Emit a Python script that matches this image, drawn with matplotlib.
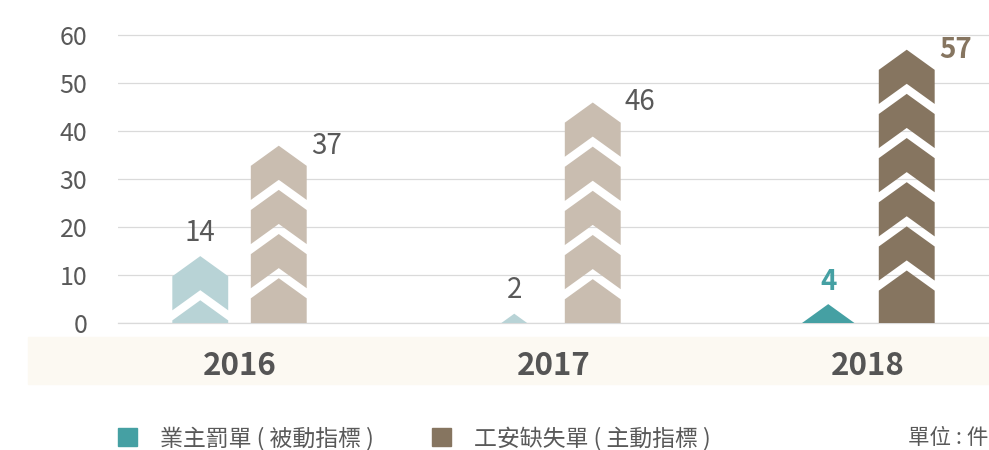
import numpy as np
import matplotlib.pyplot as plt
from matplotlib.patches import Patch, Rectangle

plt.rcParams['font.family'] = ['Noto Sans CJK TC', 'DejaVu Sans']

# data
years = ["2016", "2017", "2018"]
owner_fines = [14, 2, 4]        # 業主罰單 (被動指標)
safety_defects = [37, 46, 57]   # 工安缺失單 (主動指標)
series_names = ["業主罰單 ( 被動指標 )", "工安缺失單 ( 主動指標 )"]
unit_note = "單位 : 件"

# styles
c_owner = ["#b8d3d6", "#b8d3d6", "#45a0a3"]
c_safety = ["#c9bdb0", "#c9bdb0", "#867560"]
grid_c = "#dadada"
text_c = "#595959"

W, H = 989, 450
fig = plt.figure(figsize=(W / 100, H / 100), dpi=100)
ax = fig.add_axes([118 / W, (H - 323.3) / H, (W - 118) / W, 292.8 / H])
ax.set_zorder(2)
ax.patch.set_alpha(0)

# beige band behind year labels
fig.patches.append(Rectangle((28 / W, (H - 384) / H), 1 - 28 / W, 47 / H,
                             transform=fig.transFigure, color="#fcf9f2", zorder=-1))

half_w = 0.089   # half bar width (data units)
peak = 4.2       # height of chevron tip
period = 9.2     # chevron spacing
gap = 2.1        # white gap between chevrons


def draw_chevrons(ax, xc, value, color):
    tips = [value]
    while tips[-1] - period > 3:
        tips.append(tips[-1] - period)
    L, R = xc - half_w, xc + half_w
    for i, t in enumerate(tips):
        xs = [L, xc, R]
        ys = [t - peak, t, t - peak]
        if i == len(tips) - 1:
            xs += [R, L]
            ys += [-2, -2]
        else:
            nb = t - period + gap
            xs += [R, xc, L]
            ys += [nb - peak, nb, nb - peak]
        ax.fill(xs, ys, color=color, lw=0, zorder=3)


x = np.arange(len(years))
off = 0.125
for i in range(len(years)):
    draw_chevrons(ax, x[i] - off, owner_fines[i], c_owner[i])
    draw_chevrons(ax, x[i] + off, safety_defects[i], c_safety[i])

    last = i == len(years) - 1
    ax.annotate(str(owner_fines[i]), (x[i] - off, owner_fines[i]),
                xytext=(0, 6), textcoords="offset points", ha="center", va="bottom",
                fontsize=20, color=c_owner[i] if last else text_c,
                fontweight="bold" if last else "light", zorder=5)
    ax.annotate(str(safety_defects[i]), (x[i] + off + half_w, safety_defects[i]),
                xytext=(3, 0), textcoords="offset points", ha="left", va="center",
                fontsize=20, color=c_safety[i] if last else text_c,
                fontweight="bold" if last else "light", zorder=5)

ax.set_xlim(-0.387, 2.387)
ax.set_ylim(0, 61)
ax.set_yticks(np.arange(0, 61, 10))
ax.yaxis.grid(True, color=grid_c, lw=0.9, zorder=0)
ax.axhline(0, color=grid_c, lw=0.9, clip_on=False, zorder=1)
ax.set_axisbelow(True)
for s in ax.spines.values():
    s.set_visible(False)
ax.tick_params(axis="y", length=0, pad=22, labelsize=18, labelcolor=text_c)

ax.set_xticks(x, years)
ax.tick_params(axis="x", length=0, pad=19, labelsize=22.5, labelcolor="#555555")
for lab in ax.get_xticklabels():
    lab.set_fontweight("bold")

handles = [Patch(color=c_owner[-1]), Patch(color=c_safety[-1])]
fig.legend(handles, series_names, loc="center left",
           bbox_to_anchor=(118 / W, 1 - 438 / H), ncol=2, frameon=False,
           prop={"size": 16.5},
           handlelength=0.85, handleheight=0.85,
           handletextpad=1.0, columnspacing=2.5, labelcolor=text_c,
           borderpad=0, borderaxespad=0)

fig.text(0.999, 1 - 438 / H, unit_note, ha="right", va="center",
         fontsize=15.5, color=text_c)

fig.savefig("out.png", dpi=100)
